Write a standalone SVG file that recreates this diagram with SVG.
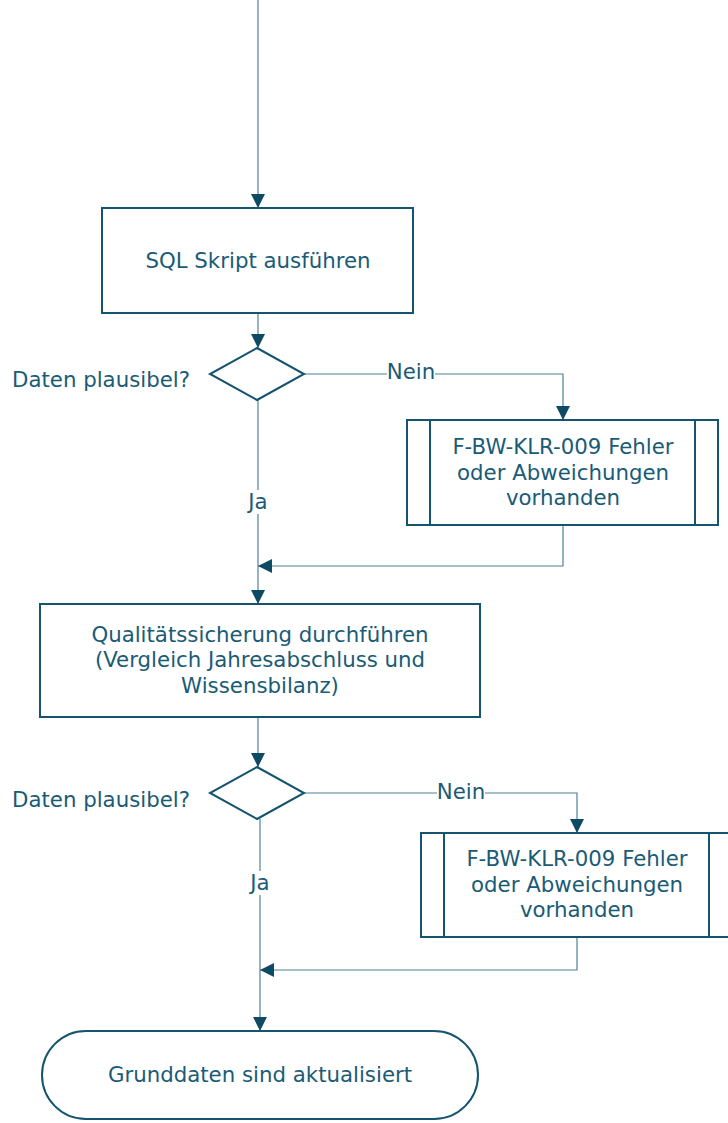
<svg xmlns="http://www.w3.org/2000/svg" width="728" height="1123" viewBox="0 0 728 1123">
<defs>
<marker id="arr" markerWidth="14" markerHeight="16" refX="14" refY="7" orient="auto" markerUnits="userSpaceOnUse" viewBox="0 0 14 14">
<path d="M0,0 L14,7 L0,14 Z" fill="#0f4a64"/>
</marker>
<style>
.n{fill:#fff;stroke:#14546f;stroke-width:2}
.c{fill:none;stroke:#4f8197;stroke-width:1.2}
.t{font-family:"DejaVu Sans",Verdana,sans-serif;font-size:21.3px;fill:#1a5b76;text-anchor:middle}
.l{font-family:"DejaVu Sans",Verdana,sans-serif;font-size:21.3px;fill:#1a5b76}
</style>
</defs>
<rect width="728" height="1123" fill="#fff"/>
<g id="connectors">
<path class="c" d="M258,0 V208" marker-end="url(#arr)"/>
<path class="c" d="M258,313 V348" marker-end="url(#arr)"/>
<path class="c" d="M304,374 H563 V420" marker-end="url(#arr)"/>
<path class="c" d="M258,400 V604" marker-end="url(#arr)"/>
<path class="c" d="M563,525 V566 H258" marker-end="url(#arr)"/>
<path class="c" d="M258,717 V767" marker-end="url(#arr)"/>
<path class="c" d="M304,793 H577 V833" marker-end="url(#arr)"/>
<path class="c" d="M260,819 V1031" marker-end="url(#arr)"/>
<path class="c" d="M577,938 V970 H260" marker-end="url(#arr)"/>
<rect x="387" y="362" width="48" height="20" fill="#fff"/>
<text class="t" x="411" y="379">Nein</text>
<rect x="246" y="490" width="24" height="24" fill="#fff"/>
<text class="t" x="258" y="509">Ja</text>
<rect x="437" y="781" width="48" height="20" fill="#fff"/>
<text class="t" x="461" y="799">Nein</text>
<rect x="248" y="871" width="24" height="24" fill="#fff"/>
<text class="t" x="260" y="890">Ja</text>
</g>
<g id="sql">
<rect class="n" x="102" y="208" width="311" height="105"/>
<text class="t" x="258" y="268">SQL Skript ausführen</text>
</g>
<g id="check1">
<path class="n" d="M257,348 L304,374 L257,400 L210,374 Z"/>
<text class="l" x="12" y="387">Daten plausibel?</text>
</g>
<g id="error1">
<rect class="n" x="407" y="420" width="311" height="105"/>
<path class="n" d="M430,420 V525 M695,420 V525"/>
<text class="t" x="563" y="454">F-BW-KLR-009 Fehler</text>
<text class="t" x="563" y="480">oder Abweichungen</text>
<text class="t" x="563" y="505">vorhanden</text>
</g>
<g id="qs">
<rect class="n" x="40" y="604" width="440" height="113"/>
<text class="t" x="260" y="642">Qualitätssicherung durchführen</text>
<text class="t" x="260" y="667">(Vergleich Jahresabschluss und</text>
<text class="t" x="260" y="693">Wissensbilanz)</text>
</g>
<g id="check2">
<path class="n" d="M257,767 L304,793 L257,819 L210,793 Z"/>
<text class="l" x="12" y="807">Daten plausibel?</text>
</g>
<g id="error2">
<rect class="n" x="421" y="833" width="320" height="104"/>
<path class="n" d="M444,833 V937 M709,833 V937"/>
<text class="t" x="577" y="866">F-BW-KLR-009 Fehler</text>
<text class="t" x="577" y="892">oder Abweichungen</text>
<text class="t" x="577" y="917">vorhanden</text>
</g>
<g id="end">
<rect class="n" x="42" y="1031" width="436" height="88" rx="44" ry="44"/>
<text class="t" x="260" y="1082">Grunddaten sind aktualisiert</text>
</g>
</svg>
